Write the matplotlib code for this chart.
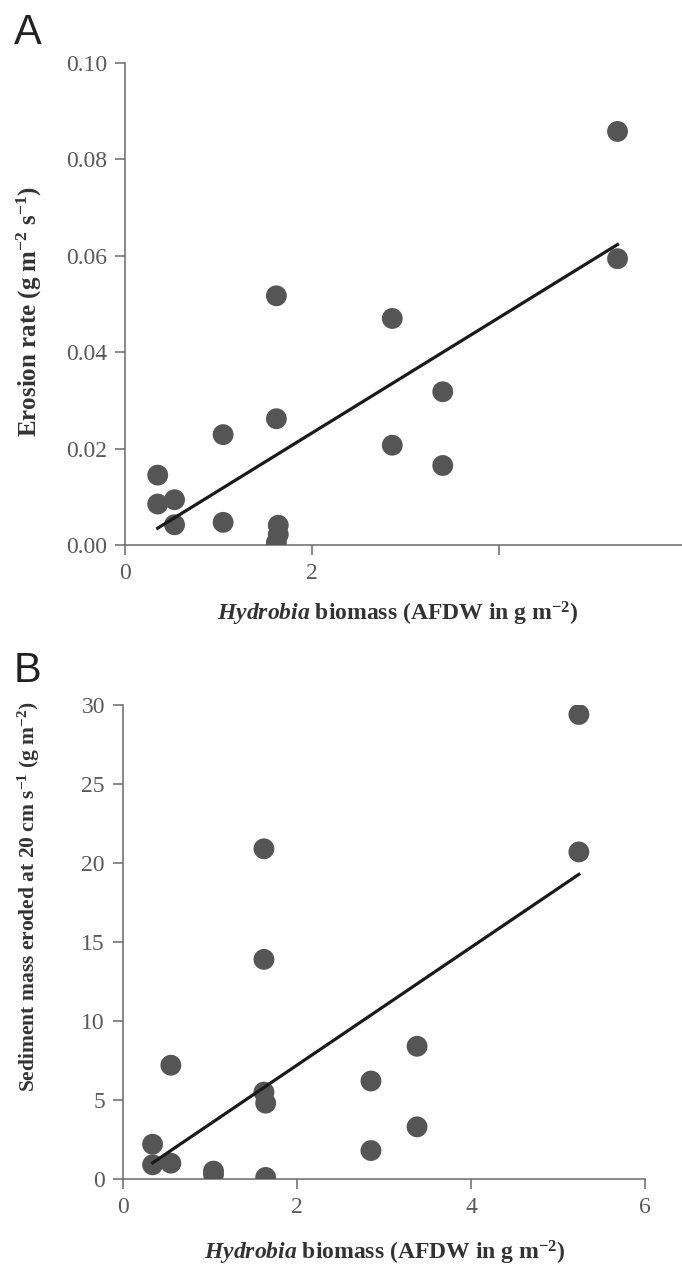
import matplotlib as mpl
mpl.use("Agg")
import matplotlib.pyplot as plt
import numpy as np

mpl.rcParams.update({
    "font.family": "Liberation Serif",
    "mathtext.fontset": "custom",
    "mathtext.rm": "Liberation Serif:bold",
    "mathtext.it": "Liberation Serif:italic:bold",
    "mathtext.bf": "Liberation Serif:bold",
})

# panel A: erosion rate vs Hydrobia biomass
biomass_a = [0.35, 0.35, 0.53, 0.53, 1.05, 1.05, 1.62, 1.62, 1.64, 1.64, 1.62,
             2.86, 2.86, 3.40, 3.40, 5.27, 5.27]
erosion_a = [0.0145, 0.0085, 0.0094, 0.0042, 0.0229, 0.0047, 0.0517, 0.0262,
             0.0041, 0.0022, 0.0005, 0.0470, 0.0207, 0.0318, 0.0165, 0.0858, 0.0594]
fit_a = (0.01196, -0.00069)  # slope, intercept

# panel B: sediment mass eroded at 20 cm/s
biomass_b = [0.34, 0.34, 0.55, 0.55, 1.04, 1.04, 1.62, 1.62, 1.62, 1.64, 1.64,
             2.85, 2.85, 3.38, 3.38, 5.24, 5.24]
sediment_b = [2.2, 0.9, 7.2, 1.0, 0.5, 0.3, 20.9, 13.9, 5.5, 4.8, 0.1,
              6.2, 1.8, 8.4, 3.3, 29.4, 20.7]
fit_b = (3.727, -0.247)

W, H = 682, 1270
fig = plt.figure(figsize=(W / 100, H / 100), dpi=100)

def box(l, t, r, b):
    return [l / W, 1 - b / H, (r - l) / W, (b - t) / H]

ax_a = fig.add_axes(box(125, 63, 682, 545))
ax_b = fig.add_axes(box(123, 705, 645, 1179))

dot = "#555555"
grey = "#6a6a6a"
txt = "#333333"

def style(ax):
    for s in ("top", "right"):
        ax.spines[s].set_visible(False)
    for s in ("left", "bottom"):
        ax.spines[s].set_color(grey)
        ax.spines[s].set_linewidth(1.1)
    ax.tick_params(direction="out", length=7, width=1.1, color=grey,
                   labelsize=17, labelcolor="#5a5a5a", pad=6)

def draw(ax, x, y, fit):
    ax.scatter(x, y, s=15 ** 2, color=dot, edgecolors="none", zorder=3)
    xs = np.array([min(x), max(x)])
    ax.plot(xs, fit[0] * xs + fit[1], color="#1a1a1a", lw=2.3, zorder=4)
    style(ax)

draw(ax_a, biomass_a, erosion_a, fit_a)
ax_a.set_xlim(0, 5.96)
ax_a.set_ylim(0, 0.10)
ax_a.set_xticks([0, 2, 4])
ax_a.set_xticklabels(["0", "2", ""])
ax_a.set_yticks(np.arange(0, 0.101, 0.02))
ax_a.set_yticklabels(["%.2f" % v for v in np.arange(0, 0.101, 0.02)])
ax_a.set_ylabel(r"Erosion rate (g m$^{-2}$ s$^{-1}$)", fontsize=18,
                fontweight="bold", color=txt, va="center")
ax_a.yaxis.set_label_coords(-0.172, 0.485)
ax_a.set_xlabel(r"$Hydrobia$ biomass (AFDW in g m$^{-2}$)", fontsize=17,
                fontweight="bold", color=txt, va="center")
ax_a.xaxis.set_label_coords(0.49, -0.143)

draw(ax_b, biomass_b, sediment_b, fit_b)
ax_b.set_xlim(0, 6)
ax_b.set_ylim(0, 30)
ax_b.set_xticks([0, 2, 4, 6])
ax_b.set_yticks([0, 5, 10, 15, 20, 25, 30])
ax_b.set_ylabel(r"Sediment mass eroded at 20 cm s$^{-1}$ (g m$^{-2}$)", fontsize=15.5,
                fontweight="bold", color=txt, va="center")
ax_b.yaxis.set_label_coords(-0.180, 0.595)
ax_b.set_xlabel(r"$Hydrobia$ biomass (AFDW in g m$^{-2}$)", fontsize=17,
                fontweight="bold", color=txt, va="center")
ax_b.xaxis.set_label_coords(0.502, -0.156)

fig.text(14 / W, 1 - 44 / H, "A", family="Liberation Sans", fontsize=30, color="#222222")
fig.text(14 / W, 1 - 682 / H, "B", family="Liberation Sans", fontsize=30, color="#222222")

fig.savefig("out.png", dpi=100)
